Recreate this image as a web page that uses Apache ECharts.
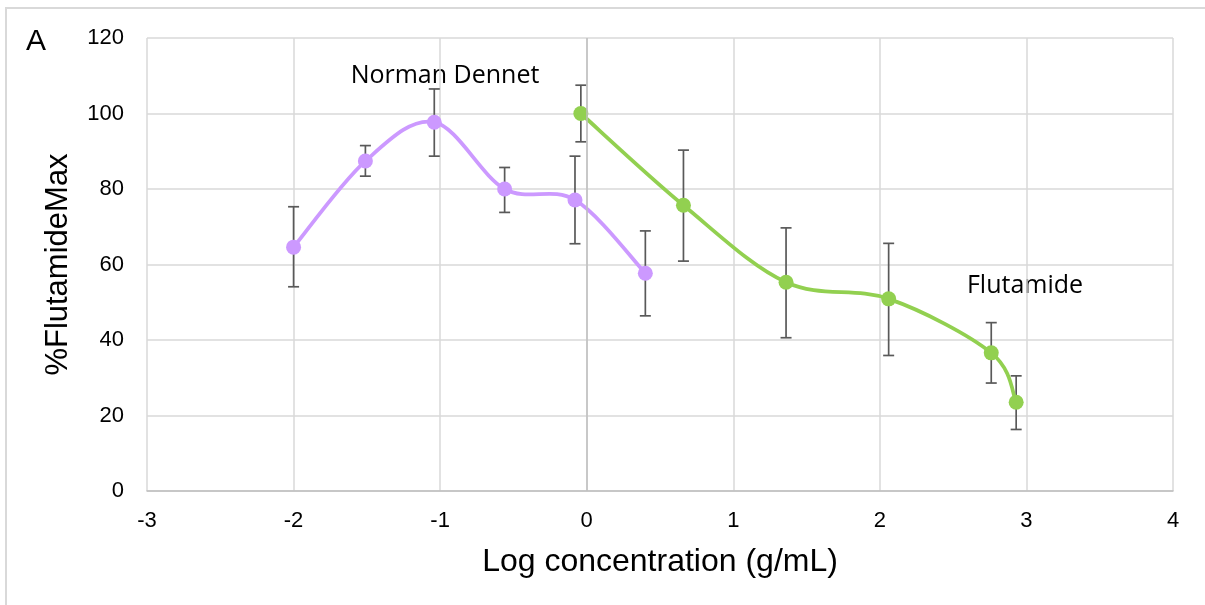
<!DOCTYPE html>
<html>
<head>
<meta charset="utf-8">
<script src="https://cdn.jsdelivr.net/npm/echarts@6/dist/echarts.min.js"></script>
<style>
  html, body { margin: 0; padding: 0; background: #ffffff; }
  #chart { width: 1205px; height: 605px; }
</style>
</head>
<body>
<div id="chart"></div>
<script>
// Axis ranges
const xMin = -3, xMax = 4, xStep = 1;
const yMin = 0, yMax = 120, yStep = 20;

// Norman Dennet: log concentration, mean response and error-bar limits
const dennetLogConc = [-2.00, -1.51, -1.04, -0.56, -0.08, 0.40];
const dennetMean    = [64.6, 87.4, 97.7, 80.0, 77.1, 57.7];
const dennetLow     = [54.1, 83.4, 88.7, 73.8, 65.5, 46.4];
const dennetHigh    = [75.3, 91.5, 106.5, 85.7, 88.7, 68.9];

// Flutamide: log concentration, mean response and error-bar limits
const flutLogConc = [-0.04, 0.66, 1.36, 2.06, 2.76, 2.93];
const flutMean    = [100.0, 75.7, 55.3, 50.9, 36.6, 23.5];
const flutLow     = [92.5, 60.9, 40.6, 35.9, 28.6, 16.3];
const flutHigh    = [107.5, 90.3, 69.7, 65.6, 44.6, 30.5];

const dennetColor = '#cc99ff';
const flutColor = '#92d050';
const sansFont = '"Liberation Sans", Arial, sans-serif';
const labelFont = '"Open Sans", sans-serif';

const pairs = (xs, ys) => xs.map((x, i) => [x, ys[i]]);
const bars = (xs, lo, hi) => xs.map((x, i) => [x, lo[i], hi[i]]);

// Vertical error bar with caps, from the low/high values of each item
function errorBarItem(params, api) {
  const x = api.value(0);
  const top = api.coord([x, api.value(2)]);
  const bot = api.coord([x, api.value(1)]);
  const half = 5.5;
  const style = { stroke: '#595959', lineWidth: 1.7 };
  return {
    type: 'group',
    children: [
      { type: 'line', shape: { x1: top[0], y1: top[1], x2: bot[0], y2: bot[1] }, style },
      { type: 'line', shape: { x1: top[0] - half, y1: top[1], x2: top[0] + half, y2: top[1] }, style },
      { type: 'line', shape: { x1: bot[0] - half, y1: bot[1], x2: bot[0] + half, y2: bot[1] }, style }
    ]
  };
}

// Smoothed connector (Catmull-Rom style cubic segments) between consecutive points
function smoothSegment(xs, ys, color) {
  const n = xs.length;
  return function (params, api) {
    const i = params.dataIndex;
    if (i >= n - 1) return null;
    const P = k => {
      const j = Math.max(0, Math.min(n - 1, k));
      return api.coord([xs[j], ys[j]]);
    };
    const p0 = P(i - 1), p1 = P(i), p2 = P(i + 1), p3 = P(i + 2);
    const t = 1 / 6;
    return {
      type: 'bezierCurve',
      shape: {
        x1: p1[0], y1: p1[1], x2: p2[0], y2: p2[1],
        cpx1: p1[0] + (p2[0] - p0[0]) * t, cpy1: p1[1] + (p2[1] - p0[1]) * t,
        cpx2: p2[0] - (p3[0] - p1[0]) * t, cpy2: p2[1] - (p3[1] - p1[1]) * t
      },
      style: { stroke: color, lineWidth: 3.75, fill: 'none', lineCap: 'round' }
    };
  };
}

const chart = echarts.init(document.getElementById('chart'), null, { renderer: 'canvas' });

chart.setOption({
  animation: false,
  backgroundColor: '#ffffff',
  textStyle: { fontFamily: sansFont },
  grid: { left: 147, top: 38, width: 1026, height: 453, containLabel: false },
  xAxis: {
    type: 'value',
    min: xMin, max: xMax, interval: xStep,
    name: 'Log concentration (g/mL)',
    nameLocation: 'middle',
    nameGap: 55,
    nameTextStyle: { fontSize: 32, color: '#000000', fontFamily: sansFont },
    axisLine: { show: true, onZero: false, lineStyle: { color: '#bfbfbf', width: 1.5 } },
    axisTick: { show: false },
    axisLabel: { fontSize: 22, color: '#000000', margin: 19 },
    splitLine: { show: true, lineStyle: { color: '#d9d9d9', width: 1.5 } }
  },
  yAxis: {
    type: 'value',
    min: yMin, max: yMax, interval: yStep,
    name: '%FlutamideMax',
    nameLocation: 'middle',
    nameGap: 73,
    nameRotate: 90,
    nameTextStyle: { fontSize: 31, color: '#000000', fontFamily: sansFont },
    axisLine: { show: false },
    axisTick: { show: false },
    axisLabel: { fontSize: 22, color: '#000000', margin: 23 },
    splitLine: { show: true, lineStyle: { color: '#d9d9d9', width: 1.5 } }
  },
  graphic: [
    {
      type: 'rect', silent: true, z: -1,
      shape: { x: 6, y: 8, width: 1220, height: 620 },
      style: { fill: 'none', stroke: '#d9d9d9', lineWidth: 2 }
    },
    {
      type: 'text', left: 26, top: 27,
      style: { text: 'A', fontSize: 30, fill: '#000000', fontFamily: sansFont }
    },
    {
      type: 'text', x: 445, y: 76,
      style: { text: 'Norman Dennet', fontSize: 25, fill: '#000000', fontFamily: labelFont, align: 'center', verticalAlign: 'middle' }
    },
    {
      type: 'text', x: 1025, y: 286,
      style: { text: 'Flutamide', fontSize: 25, fill: '#000000', fontFamily: labelFont, align: 'center', verticalAlign: 'middle' }
    }
  ],
  series: [
    {
      name: 'Norman Dennet error',
      type: 'custom',
      renderItem: errorBarItem,
      encode: { x: 0, y: [1, 2] },
      data: bars(dennetLogConc, dennetLow, dennetHigh),
      z: 2,
      silent: true,
      markLine: {
        silent: true,
        symbol: 'none',
        label: { show: false },
        lineStyle: { color: '#bfbfbf', width: 1.5, type: 'solid' },
        data: [{ xAxis: 0 }]
      }
    },
    {
      name: 'Flutamide error',
      type: 'custom',
      renderItem: errorBarItem,
      encode: { x: 0, y: [1, 2] },
      data: bars(flutLogConc, flutLow, flutHigh),
      z: 2,
      silent: true
    },
    {
      name: 'Norman Dennet curve',
      type: 'custom',
      renderItem: smoothSegment(dennetLogConc, dennetMean, dennetColor),
      encode: { x: 0, y: 1 },
      data: pairs(dennetLogConc, dennetMean),
      z: 3,
      silent: true
    },
    {
      name: 'Flutamide curve',
      type: 'custom',
      renderItem: smoothSegment(flutLogConc, flutMean, flutColor),
      encode: { x: 0, y: 1 },
      data: pairs(flutLogConc, flutMean),
      z: 3,
      silent: true
    },
    {
      name: 'Norman Dennet',
      type: 'scatter',
      data: pairs(dennetLogConc, dennetMean),
      symbol: 'circle',
      symbolSize: 15,
      itemStyle: { color: dennetColor, opacity: 1 },
      z: 4
    },
    {
      name: 'Flutamide',
      type: 'scatter',
      data: pairs(flutLogConc, flutMean),
      symbol: 'circle',
      symbolSize: 15,
      itemStyle: { color: flutColor, opacity: 1 },
      z: 4
    }
  ]
});
</script>
</body>
</html>
